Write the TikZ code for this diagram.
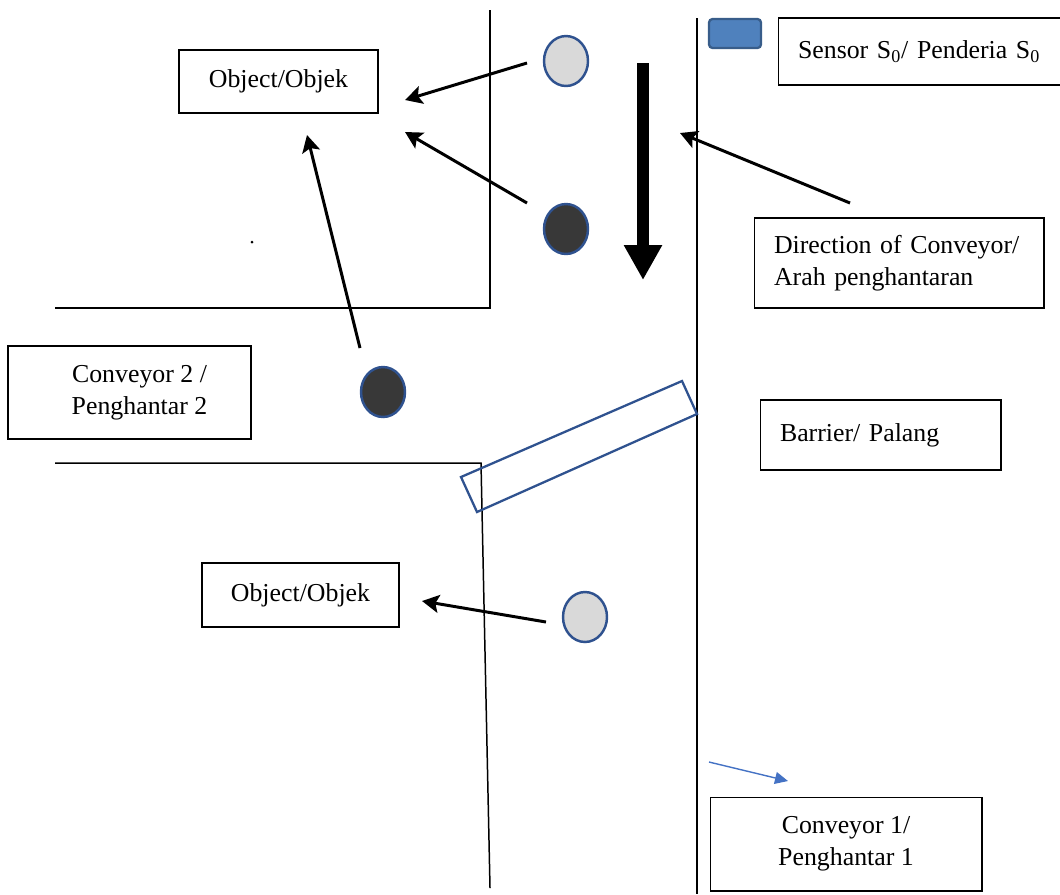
\documentclass[tikz,border=0pt]{standalone}
\usepackage{fontspec}
\setmainfont{Liberation Serif}
\usepackage{tikz}
\usetikzlibrary{arrows.meta, positioning, calc, shapes.geometric}
\definecolor{sensorfill}{HTML}{4F81BD}
\definecolor{sensorline}{HTML}{385D8A}
\definecolor{barblue}{HTML}{2F528F}
\definecolor{thinblue}{HTML}{4472C4}
\tikzset{
	labelbox/.style={draw, line width=0.6pt, inner sep=0pt, font=\fontsize{14.7}{18.2}\selectfont},
	objlight/.style={ellipse, draw=barblue, line width=1.4pt, fill=black!15, minimum width=0.88cm, minimum height=1.0cm, inner sep=0pt},
	objdark/.style={ellipse, draw=barblue, line width=1.4pt, fill=black!78, minimum width=0.88cm, minimum height=1.0cm, inner sep=0pt},
	beltline/.style={line width=0.85pt},
	pointarr/.style={line width=1.7pt, -{Stealth[length=3.4mm, width=3.6mm, inset=0.7mm]}},
}

\begin{document}
\begin{tikzpicture}[x=0.02cm, y=-0.02cm]
	\useasboundingbox (0,0) rectangle (1060,894);
	% conveyor edges
	\draw[beltline] (490,10) -- (490,308) -- (55,308);
	\draw[beltline] (55,463) -- (481,463) -- (490,888);
	\draw[beltline] (697,18) -- (697,894);
	% barrier
	\draw[barblue, line width=1.3pt] (682,381) -- (697,414) -- (477,512) -- (461,477) -- cycle;
	% sensor
	\node[draw=sensorline, fill=sensorfill, line width=1.3pt, rounded corners=2pt, minimum width=1.04cm, minimum height=0.58cm] (sensor) at (735,33.5) {};
	% label boxes
	\node[labelbox, minimum height=1.34cm, text width=5.0cm, inner xsep=0.4cm, align=left] (sensorbox) at (923,51.5) {Sensor S\textsubscript{0}/ Penderia S\textsubscript{0}};
	\node[labelbox, minimum width=3.98cm, minimum height=1.26cm] (objtop) at (278.5,81.5) {Object/Objek};
	\node[labelbox, minimum height=1.8cm, text width=5.0cm, inner xsep=0.4cm, align=left] (dirbox) at (899,263) {Direction of Conveyor/\\Arah penghantaran};
	\node[labelbox, minimum width=4.86cm, minimum height=1.86cm, align=center] (convtwo) at (129.5,392.5) {\hspace{0.4cm}Conveyor 2 /\\\hspace{0.4cm}Penghantar 2};
	\node[labelbox, minimum width=4.82cm, minimum height=1.4cm, text width=4.02cm, inner xsep=0.4cm, align=left] (barrier) at (880.5,435) {Barrier/ Palang\\[0.28cm]};
	\node[labelbox, minimum width=3.94cm, minimum height=1.28cm] (objbot) at (300.5,595) {Object/Objek};
	\node[labelbox, minimum width=5.44cm, minimum height=1.88cm, align=center] (convone) at (846,844) {Conveyor 1/\\Penghantar 1};
	% objects on the belts
	\node[objlight] (oa) at (566,61) {};
	\node[objdark] (ob) at (566,229) {};
	\node[objdark] (oc) at (383,392) {};
	\node[objlight] (od) at (585,617) {};
	% arrow ends
	\coordinate (oas) at (527,63);
	\coordinate (oae) at (405,100);
	\coordinate (obs) at (527,203);
	\coordinate (obe) at (405,132);
	\coordinate (ocs) at (360,348);
	\coordinate (oce) at (307,135);
	\coordinate (ods) at (546,622);
	\coordinate (ode) at (422,601);
	\coordinate (dirs) at (850,203);
	\coordinate (dire) at (680,133);
	\coordinate (flowtop) at (643,63);
	\coordinate (flowbot) at (643,280);
	\coordinate (bluea) at (709,762);
	\coordinate (blueb) at (788,781);
	\draw[pointarr] (oas) -- (oae);
	\draw[pointarr] (obs) -- (obe);
	\draw[pointarr] (ocs) -- (oce);
	\draw[pointarr] (ods) -- (ode);
	\draw[pointarr] (dirs) -- (dire);
	\draw[line width=0.24cm, -{Triangle[length=0.7cm, width=0.72cm]}] (flowtop) -- (flowbot);
	\draw[thinblue, line width=0.8pt, -{Triangle[length=2.6mm, width=2.4mm]}] (bluea) -- (blueb);
	\fill (252,242) circle (1.5);
\end{tikzpicture}
\end{document}
